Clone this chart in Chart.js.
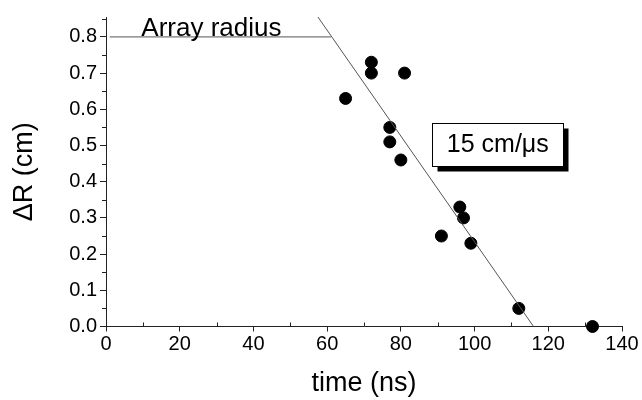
<!DOCTYPE html>
<html>
<head>
<meta charset="utf-8">
<script src="https://cdn.jsdelivr.net/npm/chart.js@4.4.1/dist/chart.umd.min.js"></script>
<style>
  html, body { margin: 0; padding: 0; background: #fff; }
  #wrap { width: 642px; height: 400px; }
</style>
</head>
<body>
<div id="wrap"><canvas id="grafico"></canvas></div>
<script>
// datos medidos (time en ns, ΔR en cm)
const tiempos = [65, 72, 72, 77, 77, 80, 81, 91, 96, 97, 99, 112, 132];
const deltaR = [0.63, 0.73, 0.70, 0.55, 0.51, 0.46, 0.70, 0.25, 0.33, 0.30, 0.23, 0.05, 0.00];

// recta de ajuste 15 cm/us
const ajusteX = [57.5, 116];
const ajusteY = [0.855, 0];

// radio del arreglo
const radioX = [1, 61];
const radioY = [0.8, 0.8];

const ticksX = [0, 20, 40, 60, 80, 100, 120, 140];
const ticksY = [0.0, 0.1, 0.2, 0.3, 0.4, 0.5, 0.6, 0.7, 0.8];

const etiquetaRadio = 'Array radius';
const etiquetaVel = '15 cm/\u03bcs';

const FUENTE = '"Liberation Sans", Arial, sans-serif';

function aPuntos(xs, ys) {
    return xs.map((x, i) => ({ x: x, y: ys[i] }));
}

// ticks menores hacia adentro + anotaciones
const decoraciones = {
    id: 'decoraciones',
    afterDraw(chart) {
        const ctx = chart.ctx;
        const sx = chart.scales.x;
        const sy = chart.scales.y;
        ctx.save();
        ctx.strokeStyle = '#222';
        ctx.lineWidth = 1;
        ctx.beginPath();
        for (let v = 10; v < 140; v += 20) {
            const px = Math.round(sx.getPixelForValue(v)) + 0.5;
            ctx.moveTo(px, sy.bottom);
            ctx.lineTo(px, sy.bottom - 4);
        }
        for (let v = 0.05; v < 0.85; v += 0.1) {
            const py = Math.round(sy.getPixelForValue(v)) + 0.5;
            ctx.moveTo(sx.left, py);
            ctx.lineTo(sx.left - 4, py);
        }
        ctx.stroke();

        // texto "Array radius"
        ctx.fillStyle = '#000';
        ctx.font = '26px ' + FUENTE;
        ctx.textAlign = 'center';
        ctx.textBaseline = 'alphabetic';
        ctx.fillText(etiquetaRadio, sx.getPixelForValue(28.6), sy.getPixelForValue(0.8) - 1);

        // caja "15 cm/us" con sombra
        const cx = sx.getPixelForValue(106.3);
        const cy = sy.getPixelForValue(0.504);
        const w = 131, h = 43;
        const x0 = Math.round(cx - w / 2) + 0.5;
        const y0 = Math.round(cy - h / 2) + 0.5;
        ctx.fillStyle = '#000';
        ctx.fillRect(x0 + 5, y0 + 5, w, h);
        ctx.fillStyle = '#fff';
        ctx.fillRect(x0, y0, w, h);
        ctx.strokeStyle = '#000';
        ctx.strokeRect(x0, y0, w, h);
        ctx.fillStyle = '#000';
        ctx.font = '25px ' + FUENTE;
        ctx.textBaseline = 'middle';
        ctx.fillText(etiquetaVel, cx, cy + 1);
        ctx.restore();
    }
};

new Chart(document.getElementById('grafico'), {
    type: 'scatter',
    data: {
        datasets: [
            {
                label: 'radio',
                data: aPuntos(radioX, radioY),
                showLine: true,
                borderColor: '#555',
                borderWidth: 1,
                pointRadius: 0
            },
            {
                label: 'ajuste',
                data: aPuntos(ajusteX, ajusteY),
                showLine: true,
                borderColor: '#555',
                borderWidth: 1,
                pointRadius: 0
            },
            {
                label: 'datos',
                data: aPuntos(tiempos, deltaR),
                backgroundColor: '#000',
                borderColor: '#000',
                pointRadius: 6,
                pointHoverRadius: 6
            }
        ]
    },
    options: {
        responsive: true,
        maintainAspectRatio: false,
        animation: false,
        clip: false,
        layout: { padding: { top: 17, right: 20, left: 0, bottom: 0 } },
        plugins: {
            legend: { display: false },
            tooltip: { enabled: false }
        },
        scales: {
            x: {
                type: 'linear',
                min: 0,
                max: 140,
                afterBuildTicks: s => { s.ticks = ticksX.map(v => ({ value: v })); },
                afterFit: s => { s.height = 73.5; },
                ticks: {
                    color: '#000',
                    font: { family: FUENTE, size: 20 },
                    padding: 1,
                    maxRotation: 0
                },
                grid: { drawOnChartArea: false, color: '#222', tickLength: 5 },
                border: { color: '#222', width: 1 },
                title: {
                    display: true,
                    text: 'time (ns)',
                    color: '#000',
                    font: { family: FUENTE, size: 27 },
                    padding: { top: 4, bottom: 0 }
                }
            },
            y: {
                type: 'linear',
                min: 0,
                max: 0.855,
                afterBuildTicks: s => { s.ticks = ticksY.map(v => ({ value: v })); },
                afterFit: s => { s.width = 106; },
                ticks: {
                    color: '#000',
                    font: { family: FUENTE, size: 20 },
                    padding: 3,
                    callback: v => Number(v).toFixed(1)
                },
                grid: { drawOnChartArea: false, color: '#222', tickLength: 6 },
                border: { color: '#222', width: 1 },
                title: {
                    display: true,
                    text: '\u0394R (cm)',
                    color: '#000',
                    font: { family: FUENTE, size: 27 },
                    padding: { top: 8, bottom: 0 }
                }
            }
        }
    },
    plugins: [decoraciones]
});
</script>
</body>
</html>
